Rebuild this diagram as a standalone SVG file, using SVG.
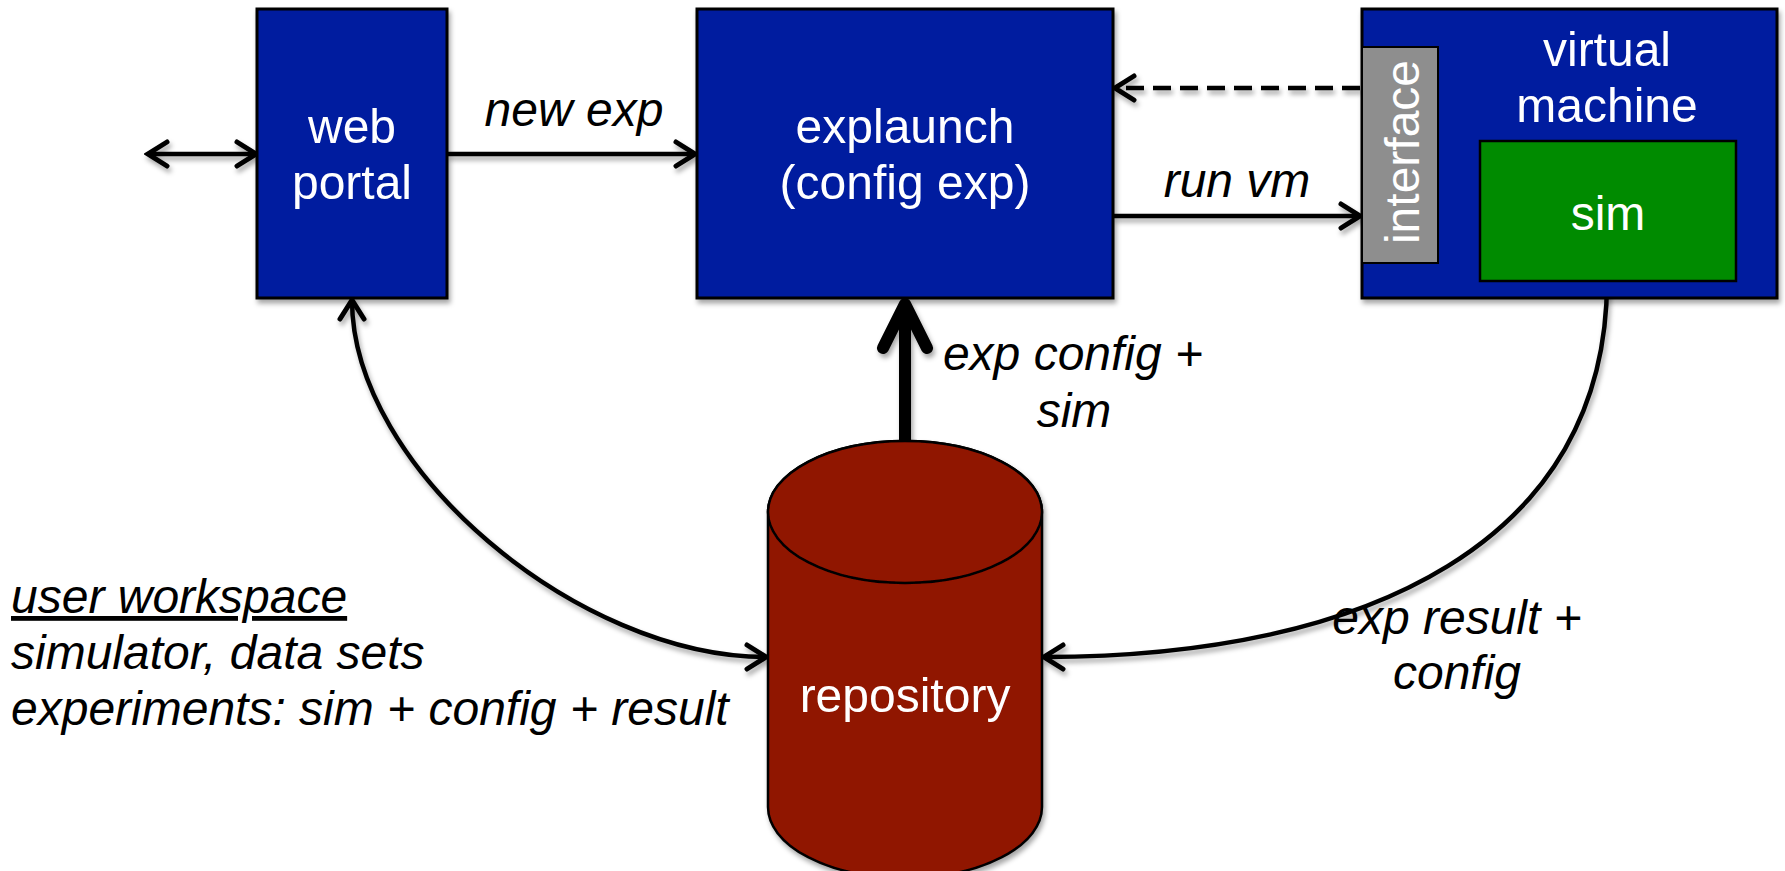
<svg xmlns="http://www.w3.org/2000/svg" width="1785" height="871" viewBox="0 0 1785 871">
  <defs>
    <filter id="shadow" x="-10%" y="-10%" width="130%" height="130%">
      <feDropShadow dx="2" dy="4" stdDeviation="2.5" flood-color="#000" flood-opacity="0.35"/>
    </filter>
    <marker id="head" markerUnits="userSpaceOnUse" viewBox="-26 -16 30 32" refX="0" refY="0" markerWidth="30" markerHeight="32" orient="auto-start-reverse">
      <path d="M-19,-12 L0,0 L-19,12" fill="none" stroke="#000" stroke-width="5" stroke-linecap="round" stroke-linejoin="miter"/>
    </marker>
    <style>
      .box { stroke: #000; stroke-width: 3; }
      .blue { fill: #001B9F; }
      .label { font-family: "Liberation Sans", Arial, sans-serif; font-size: 48px; fill: #fff; text-anchor: middle; }
      .note { font-family: "Liberation Sans", Arial, sans-serif; font-size: 48px; font-style: italic; fill: #000; }
      .mid { text-anchor: middle; }
      .wire { fill: none; stroke: #000; stroke-width: 4.5; }
    </style>
  </defs>

  <rect width="1785" height="871" fill="#fff"/>

  <!-- connectors -->
  <g id="connectors" filter="url(#shadow)">
    <line class="wire" x1="148" y1="154" x2="256" y2="154" marker-start="url(#head)" marker-end="url(#head)"/>
    <line class="wire" x1="447" y1="154" x2="695" y2="154" marker-end="url(#head)"/>
    <line class="wire" x1="1360" y1="88" x2="1115" y2="88" stroke-dasharray="18 9" marker-end="url(#head)"/>
    <line class="wire" x1="1113" y1="216" x2="1360" y2="216" marker-end="url(#head)"/>
    <!-- heavy config feed from repository -->
    <path d="M905,444 L905,306" fill="none" stroke="#000" stroke-width="12"/>
    <path d="M883,348 L905,304 L927,348" fill="none" stroke="#000" stroke-width="12" stroke-linecap="round" stroke-linejoin="round"/>
    <!-- workspace link between portal and repository -->
    <path class="wire" d="M352,300 C352,468 578,657 766,657" marker-start="url(#head)" marker-end="url(#head)"/>
    <!-- results back from the simulator -->
    <path class="wire" d="M1607,281 C1607,540 1370,657 1044,657" marker-end="url(#head)"/>
  </g>

  <!-- web portal -->
  <g id="web-portal" filter="url(#shadow)">
    <rect class="box blue" x="257" y="9" width="190" height="289"/>
    <text class="label" x="352" y="143">web</text>
    <text class="label" x="352" y="199">portal</text>
  </g>

  <!-- explaunch -->
  <g id="explaunch" filter="url(#shadow)">
    <rect class="box blue" x="697" y="9" width="416" height="289"/>
    <text class="label" x="905" y="143">explaunch</text>
    <text class="label" x="905" y="199">(config exp)</text>
  </g>

  <!-- virtual machine with its interface and simulator -->
  <g id="virtual-machine" filter="url(#shadow)">
    <rect class="box blue" x="1362" y="9" width="415" height="289"/>
    <text class="label" x="1607" y="66">virtual</text>
    <text class="label" x="1607" y="122">machine</text>
  </g>
  <g id="interface">
    <rect x="1362" y="47" width="76" height="216" fill="#8E8E8E" stroke="#000" stroke-width="2"/>
    <text class="label" transform="translate(1419,152) rotate(-90)">interface</text>
  </g>
  <g id="sim">
    <rect x="1480" y="141" width="256" height="140" fill="#008B00" stroke="#000" stroke-width="2.5"/>
    <text class="label" x="1608" y="230">sim</text>
  </g>

  <!-- repository -->
  <g id="repository" filter="url(#shadow)">
    <path d="M768,512 L768,807 A137,71 0 0 0 1042,807 L1042,512 A137,71 0 0 0 768,512 Z" fill="#901300" stroke="#000" stroke-width="2.5"/>
    <ellipse cx="905" cy="512" rx="137" ry="71" fill="#901300" stroke="#000" stroke-width="2.5"/>
    <text class="label" x="905" y="712">repository</text>
  </g>

  <!-- connector labels -->
  <g id="labels">
    <text class="note mid" x="574" y="126">new exp</text>
    <text class="note mid" x="1237" y="197">run vm</text>
    <text class="note mid" x="1073" y="370">exp config +</text>
    <text class="note mid" x="1074" y="427">sim</text>
    <text class="note mid" x="1457" y="634">exp result +</text>
    <text class="note mid" x="1457" y="689">config</text>
  </g>

  <!-- workspace legend -->
  <g id="workspace-legend">
    <text class="note" x="11" y="613" text-decoration="underline">user workspace</text>
    <text class="note" x="11" y="669">simulator, data sets</text>
    <text class="note" x="11" y="725">experiments: sim + config + result</text>
  </g>
</svg>
